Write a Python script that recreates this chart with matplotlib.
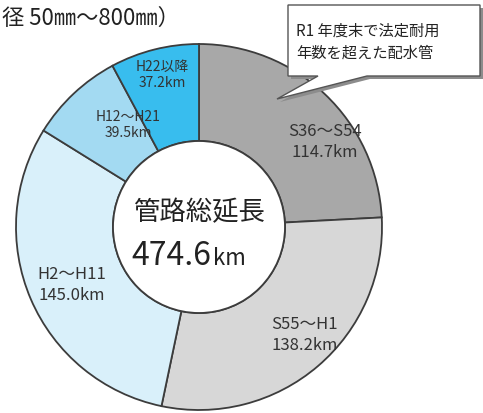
import numpy as np
import matplotlib.pyplot as plt
from matplotlib.patches import Polygon, Circle

plt.rcParams['font.family'] = ['Noto Sans CJK JP', 'DejaVu Sans']

# data
periods = ['S36～S54', 'S55～H1', 'H2～H11', 'H12～H21', 'H22以降']
lengths = [114.7, 138.2, 145.0, 39.5, 37.2]
colors = ['#a8a8a8', '#d7d7d7', '#d9f0fa', '#a3daf2', '#38bdee']
total_label = '474.6'
title = '径 50㎜～800㎜）'
callout = 'R1 年度末で法定耐用\n年数を超えた配水管'

W, H = 483, 414
fig = plt.figure(figsize=(W / 100, H / 100), dpi=100)
ax = fig.add_axes([0, 0, 1, 1])

cx, cy, r_out, r_in = 199, 228, 183, 86

# donut (y axis is inverted, so flip angles with counterclock=True)
wedges, _ = ax.pie(lengths, colors=colors, startangle=-90, counterclock=True,
                   center=(cx, cy), radius=r_out, frame=True,
                   wedgeprops=dict(width=r_out - r_in, edgecolor='#3c3c3c', linewidth=1.3))
ax.set_xlim(0, W)
ax.set_ylim(H, 0)
ax.axis('off')
ax.add_patch(Circle((cx, cy), r_in, facecolor='white', edgecolor='#3c3c3c', linewidth=1.3))

# segment labels
label_pos = [(325, 142), (305, 335), (72, 285), (128, 125), (162, 75)]
label_size = [12, 12, 12, 10, 10]
for name, val, (x, y), fs in zip(periods, lengths, label_pos, label_size):
    ax.text(x, y, f'{name}\n{val:.1f}km', ha='center', va='center',
            fontsize=fs, color='#333333', linespacing=1.25)

# centre text
ax.text(cx, 213, '管路総延長', ha='center', va='center', fontsize=19, color='#222222')
ax.text(cx + 12, 256, total_label, ha='right', va='center', fontsize=23, color='#222222')
ax.text(cx + 14, 259, 'km', ha='left', va='center', fontsize=16, color='#222222')

# title
ax.text(2, 18, title, ha='left', va='center', fontsize=16, color='#222222')

# callout box with shadow
box = [(288, 6), (480, 6), (480, 77), (367, 77), (277, 100), (318, 77), (288, 77)]
shadow = [(x + 3, y + 3) for x, y in box]
ax.add_patch(Polygon(shadow, closed=True, facecolor='#8c8c8c', edgecolor='none', zorder=5))
ax.add_patch(Polygon(box, closed=True, facecolor='white', edgecolor='#555555',
                     linewidth=1.0, zorder=6))
ax.text(296, 42, callout, ha='left', va='center', fontsize=11, color='#222222',
        linespacing=1.4, zorder=7)

fig.savefig('out.png', dpi=100)
